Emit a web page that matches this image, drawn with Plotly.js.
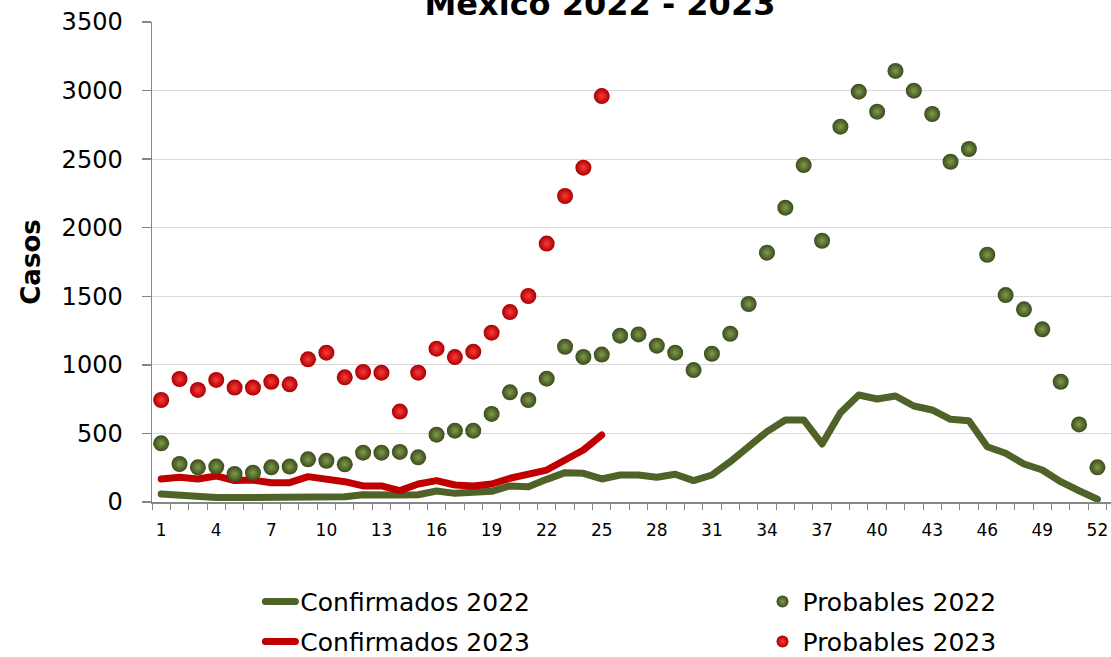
<!DOCTYPE html>
<html>
<head>
<meta charset="utf-8">
<script src="https://cdn.plot.ly/plotly-3.0.1.min.js"></script>
<style>
html, body { margin: 0; padding: 0; background: #fff; }
#chart { width: 1111px; height: 657px; }
.scatterlayer path.js-line, .legendlines path { stroke-linejoin: round; stroke-linecap: round; }
</style>
</head>
<body>
<div id="chart"></div>
<script>
var weeks = [1,2,3,4,5,6,7,8,9,10,11,12,13,14,15,16,17,18,19,20,21,22,23,24,25,26,
             27,28,29,30,31,32,33,34,35,36,37,38,39,40,41,42,43,44,45,46,47,48,49,50,51,52];
var weeks2023 = [1,2,3,4,5,6,7,8,9,10,11,12,13,14,15,16,17,18,19,20,21,22,23,24,25];

var confirmados2022 = [58,46,44,32,32,32,39,34,39,39,39,53,46,51,53,80,63,70,78,117,112,165,214,209,168,197,
                       197,180,202,156,197,294,408,513,598,598,423,651,780,751,773,700,671,603,593,403,355,277,233,148,82,20];
var probables2022 = [428,277,253,258,204,214,253,258,311,301,275,360,360,365,326,491,520,520,642,800,744,899,1132,1058,1075,1213,
                     1222,1140,1089,962,1081,1227,1444,1818,2146,2457,1905,2737,2992,2846,3143,2999,2829,2481,2574,1803,1509,1405,1259,877,566,253];
var confirmados2023 = [168,180,168,190,156,160,141,141,185,168,148,117,117,83,131,156,124,117,131,173,202,233,306,379,489];
var probables2023 = [744,897,817,890,834,834,877,858,1040,1089,909,948,943,659,943,1118,1057,1096,1235,1385,1502,1884,2231,2438,2960];

var tickWeeks = [1,4,7,10,13,16,19,22,25,28,31,34,37,40,43,46,49,52];
var tickLabels = ["1","4","7","10","13","16","19","22","25","28","31","34","37","40","43","46","49","52"];
var yTicks = [0,500,1000,1500,2000,2500,3000,3500];

var FONT = "DejaVu Sans, Liberation Sans, sans-serif";

var traces = [
  {
    x: weeks, y: confirmados2022, name: "Confirmados 2022", type: "scatter", mode: "lines",
    line: {color: "#4f6228", width: 7}, legend: "legend", legendgroup: "c22"
  },
  {
    x: weeks2023, y: confirmados2023, name: "Confirmados 2023", type: "scatter", mode: "lines",
    line: {color: "#c00000", width: 7}, legend: "legend", legendgroup: "c23"
  },
  {
    x: weeks, y: probables2022, name: "Probables 2022", type: "scatter", mode: "markers",
    marker: {size: 16, color: "#3b4a1c", line: {width: 0},
             gradient: {type: "radial", color: "#7f9c4c"}},
    legend: "legend2", legendgroup: "p22"
  },
  {
    x: weeks2023, y: probables2023, name: "Probables 2023", type: "scatter", mode: "markers",
    marker: {size: 16, color: "#a80000", line: {width: 0},
             gradient: {type: "radial", color: "#ff3a3a"}},
    legend: "legend2", legendgroup: "p23"
  }
];

var layout = {
  width: 1111, height: 657,
  margin: {l: 152, r: 0, t: 22, b: 155, autoexpand: false},
  paper_bgcolor: "#ffffff", plot_bgcolor: "#ffffff",
  font: {family: FONT, color: "#000000"},
  title: {text: "México 2022 - 2023", font: {family: FONT, size: 32, weight: "bold", color: "#000"},
          x: 0.54, xanchor: "center", y: 0.995, yanchor: "middle", yref: "container"},
  xaxis: {
    range: [0.5, 52.74], tickmode: "array", tickvals: tickWeeks, ticktext: tickLabels,
    ticks: "", showgrid: false, zeroline: false,
    showline: true, linecolor: "#868686", linewidth: 1.5,
    tickfont: {family: FONT, size: 17, color: "#000"},
    ticklabelstandoff: 12,
    minor: {tick0: 0.5, dtick: 1, ticks: "outside", ticklen: 6, tickcolor: "#868686", tickwidth: 1, showgrid: false}
  },
  yaxis: {
    range: [0, 3500], tickmode: "array", tickvals: yTicks,
    ticks: "outside", ticklen: 9, tickcolor: "#868686", tickwidth: 1.5,
    showgrid: true, gridcolor: "#d9d9d9", gridwidth: 1.2, zeroline: false,
    showline: true, linecolor: "#868686", linewidth: 1.5,
    tickfont: {family: FONT, size: 24, color: "#000"},
    ticklabelstandoff: 14,
    title: {text: "Casos", font: {family: FONT, size: 26, weight: "bold", color: "#000"}, standoff: 13}
  },
  showlegend: true,
  legend: {
    x: 0.113, xanchor: "left", y: -0.16, yanchor: "top", orientation: "v",
    traceorder: "grouped", tracegroupgap: 4.5,
    font: {family: FONT, size: 25, color: "#000"}, bgcolor: "rgba(0,0,0,0)", borderwidth: 0
  },
  legend2: {
    x: 0.6366, xanchor: "left", y: -0.16, yanchor: "top", orientation: "v",
    traceorder: "grouped", tracegroupgap: 4.5, itemsizing: "constant",
    font: {family: FONT, size: 25, color: "#000"}, bgcolor: "rgba(0,0,0,0)", borderwidth: 0
  }
};

Plotly.newPlot("chart", traces, layout, {displayModeBar: false, staticPlot: true});
</script>
</body>
</html>
